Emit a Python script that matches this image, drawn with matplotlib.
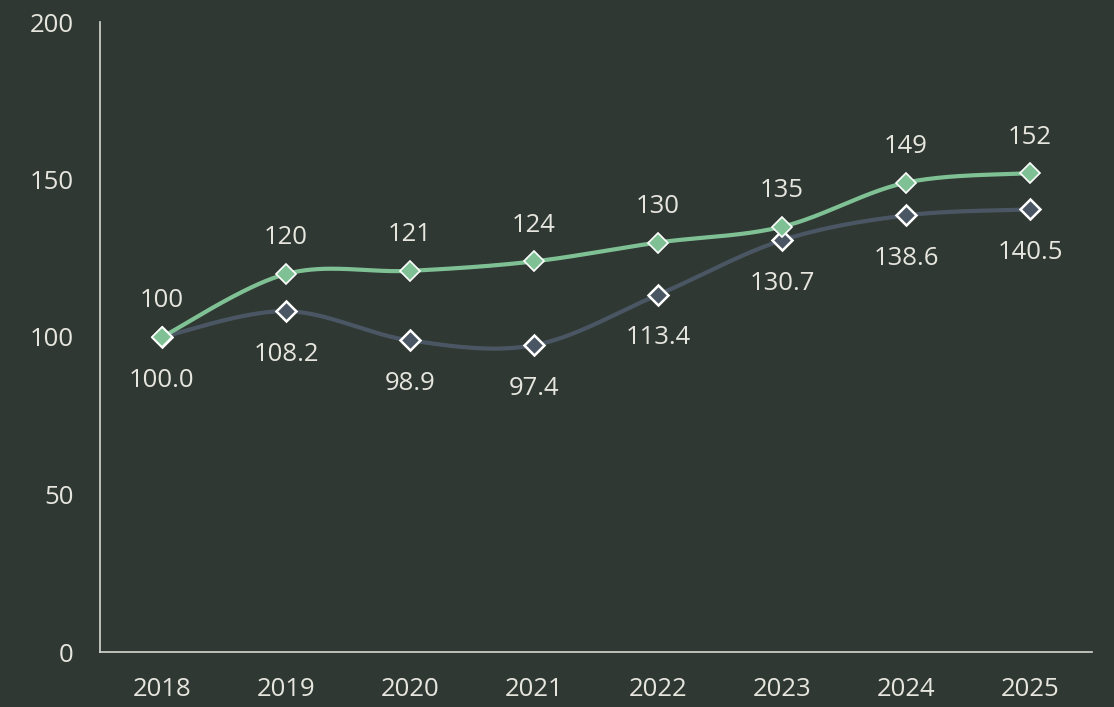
import numpy as np
import matplotlib.pyplot as plt

years = ["2018", "2019", "2020", "2021", "2022", "2023", "2024", "2025"]
green_vals = [100, 120, 121, 124, 130, 135, 149, 152]
gray_vals = [100.0, 108.2, 98.9, 97.4, 113.4, 130.7, 138.6, 140.5]
green_labels = ["100", "120", "121", "124", "130", "135", "149", "152"]
gray_labels = ["100.0", "108.2", "98.9", "97.4", "113.4", "130.7", "138.6", "140.5"]

BG = "#2f3832"
TXT = "#e6e6df"
GREEN = "#7fc194"
GRAY = "#4a5663"

plt.rcParams['font.family'] = ['Open Sans', 'DejaVu Sans']


def smooth(xs, ys, n=40, t=0.5):
    # cardinal spline through the points
    xs = np.asarray(xs, float)
    ys = np.asarray(ys, float)
    px, py = [], []
    for i in range(len(xs) - 1):
        x0, y0 = xs[max(i - 1, 0)], ys[max(i - 1, 0)]
        x1, y1 = xs[i], ys[i]
        x2, y2 = xs[i + 1], ys[i + 1]
        x3, y3 = xs[min(i + 2, len(xs) - 1)], ys[min(i + 2, len(xs) - 1)]
        m1x, m1y = t * (x2 - x0), t * (y2 - y0)
        m2x, m2y = t * (x3 - x1), t * (y3 - y1)
        s = np.linspace(0, 1, n)
        h1 = 2 * s**3 - 3 * s**2 + 1
        h2 = s**3 - 2 * s**2 + s
        h3 = -2 * s**3 + 3 * s**2
        h4 = s**3 - s**2
        px.extend(h1 * x1 + h2 * m1x + h3 * x2 + h4 * m2x)
        py.extend(h1 * y1 + h2 * m1y + h3 * y2 + h4 * m2y)
    return np.array(px), np.array(py)


fig = plt.figure(figsize=(11.14, 7.07), dpi=100)
fig.patch.set_facecolor(BG)
ax = fig.add_axes([100 / 1114, 55 / 707, 992 / 1114, 630 / 707])
ax.set_facecolor(BG)

x = np.arange(len(years))

sx, sy = smooth(x, gray_vals)
ax.plot(sx, sy, color=GRAY, lw=3, zorder=2, solid_capstyle='round')
ax.plot(x, gray_vals, ls='none', marker='D', ms=10, mfc=GRAY, mec='white', mew=1.8, zorder=4)

sx, sy = smooth(x, green_vals)
ax.plot(sx, sy, color=GREEN, lw=3, zorder=3, solid_capstyle='round')
ax.plot(x, green_vals, ls='none', marker='D', ms=10, mfc=GREEN, mec='white', mew=1.2, zorder=5)

for xi, v, lab in zip(x, green_vals, green_labels):
    ax.annotate(lab, (xi, v), xytext=(0, 26), textcoords='offset points',
                ha='center', va='center', color=TXT, fontsize=18.5)
for xi, v, lab in zip(x, gray_vals, gray_labels):
    ax.annotate(lab, (xi, v), xytext=(0, -31), textcoords='offset points',
                ha='center', va='center', color=TXT, fontsize=18.5)

ax.set_xlim(-0.5, len(years) - 0.5)
ax.set_ylim(0, 200)
ax.set_xticks(x)
ax.set_xticklabels(years)
ax.set_yticks([0, 50, 100, 150, 200])
ax.tick_params(length=0, colors=TXT, labelsize=18.5)
ax.tick_params(axis='y', pad=19)
ax.tick_params(axis='x', pad=18)
for s in ['top', 'right']:
    ax.spines[s].set_visible(False)
for s in ['left', 'bottom']:
    ax.spines[s].set_color('#d5d8d0')
    ax.spines[s].set_linewidth(1.2)

fig.savefig('out.png', dpi=100, facecolor=BG)
